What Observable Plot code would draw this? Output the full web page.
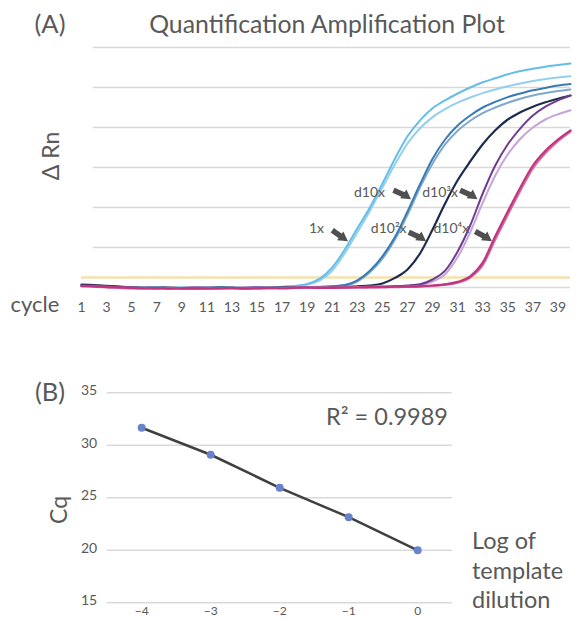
<!DOCTYPE html>
<html>
<head>
<meta charset="utf-8">
<script src="https://cdn.jsdelivr.net/npm/d3@7"></script>
<script src="https://cdn.jsdelivr.net/npm/@observablehq/plot@0.6"></script>
<style>
  html, body { margin: 0; padding: 0; background: #fff; overflow: hidden; }
  #wrap { position: relative; width: 579px; height: 618px; overflow: hidden; font-family: Lato, "Open Sans", sans-serif; color: #595959; }
  #pa, #pb { position: absolute; left: 0; }
  #pa { top: 0; }
  #pb { top: 360px; }
  .t { position: absolute; white-space: nowrap; line-height: 1; transform: translate(-50%, -50%); }
  .r { transform: translate(-50%, -50%) rotate(-90deg); }
  .l { position: absolute; white-space: nowrap; line-height: 1; transform: translate(0, -50%); }
</style>
</head>
<body>
<div id="wrap">
  <div id="pa"></div>
  <div id="pb"></div>
  <div class="t" style="left:50px;top:24px;font-size:25.5px">(A)</div>
  <div class="t" style="left:327px;top:24px;font-size:24.8px">Quantification Amplification Plot</div>
  <div class="t r" style="left:50px;top:156px;font-size:23px">Δ Rn</div>
  <div class="t" style="left:35px;top:304px;font-size:22px">cycle</div>
  <div class="t" style="left:50px;top:392px;font-size:25.5px">(B)</div>
  <div class="t" style="left:387px;top:417px;font-size:23.5px">R² = 0.9989</div>
  <div class="t r" style="left:58px;top:510px;font-size:23px">Cq</div>
  <div class="l" style="left:472px;top:541px;font-size:23.5px">Log of</div>
  <div class="l" style="left:472px;top:571px;font-size:23.5px">template</div>
  <div class="l" style="left:472px;top:600px;font-size:23.5px">dilution</div>
</div>
<script>
// ---------- Panel A data: ΔRn per cycle (cycles 1..40) ----------
const cycles = d3.range(1, 41);
const cycleTicks = [1, 3, 5, 7, 9, 11, 13, 15, 17, 19, 21, 23, 25, 27, 29, 31, 33, 35, 37, 39];
const rnGrid = [0, 1, 2, 3, 4, 5, 6];
const threshold = 0.25;

const rn_1x_a = [0.05,0.04,0.03,0.02,0.01,0.0,0.0,-0.01,0.0,-0.01,0.0,0.01,0.0,-0.01,0.0,0.01,0.02,
  0.04,0.09,0.22,0.5,0.95,1.48,2.0,2.6,3.22,3.78,4.18,4.48,4.68,4.85,5.0,5.13,5.23,5.33,5.41,5.47,5.52,5.56,5.6];
const rn_1x_b = [0.04,0.03,0.03,0.01,0.0,0.0,-0.01,-0.01,0.0,-0.02,-0.01,0.0,0.0,-0.01,0.0,0.0,0.01,
  0.03,0.07,0.18,0.42,0.86,1.38,1.92,2.5,3.08,3.6,3.98,4.26,4.46,4.62,4.75,4.86,4.95,5.03,5.1,5.16,5.21,5.25,5.28];
const rn_d10_a = [0.05,0.04,0.02,0.01,0.0,-0.01,0.0,-0.01,-0.02,-0.01,0.0,-0.01,-0.01,0.0,0.0,-0.01,0.0,0.01,0.0,0.01,0.03,
  0.06,0.18,0.42,0.78,1.26,1.9,2.58,3.22,3.7,4.05,4.3,4.5,4.64,4.76,4.85,4.93,4.99,5.05,5.09];
const rn_d10_b = [0.04,0.04,0.03,0.01,0.0,0.0,-0.01,-0.01,-0.01,0.0,0.0,-0.01,0.0,-0.01,0.0,0.0,0.0,0.01,0.01,0.02,0.03,
  0.05,0.15,0.38,0.72,1.2,1.82,2.5,3.1,3.58,3.92,4.17,4.36,4.5,4.62,4.72,4.8,4.86,4.91,4.95];
const rn_d100 = [0.07,0.06,0.04,0.02,0.01,0.0,-0.01,0.0,-0.02,-0.02,-0.01,0.0,-0.01,-0.02,-0.01,0.0,0.0,-0.01,-0.01,0.0,0.01,0.01,0.03,0.05,
  0.1,0.24,0.45,0.85,1.45,2.1,2.68,3.15,3.58,3.93,4.2,4.38,4.52,4.63,4.72,4.8];
const rn_d1000_a = [0.05,0.05,0.03,0.01,0.0,-0.01,-0.01,-0.02,-0.01,0.0,-0.01,-0.02,-0.02,-0.01,0.0,-0.01,-0.01,0.0,0.0,-0.01,0.0,0.0,0.01,0.02,0.02,0.03,0.05,
  0.08,0.2,0.42,0.9,1.55,2.35,3.05,3.58,3.98,4.3,4.52,4.68,4.8];
const rn_d1000_b = [0.04,0.04,0.02,0.01,0.0,0.0,-0.01,-0.01,-0.01,0.0,0.0,-0.01,-0.01,0.0,0.0,0.0,-0.01,0.0,0.01,0.0,0.0,0.01,0.01,0.02,0.03,0.03,0.04,
  0.06,0.15,0.33,0.76,1.38,2.12,2.8,3.33,3.72,4.0,4.2,4.33,4.43];
const rn_d10000_a = [0.04,0.03,0.01,0.0,-0.01,-0.02,-0.02,-0.03,-0.02,-0.02,-0.03,-0.02,-0.01,-0.02,-0.02,-0.01,-0.02,-0.01,0.0,-0.01,-0.01,0.0,0.0,0.01,0.01,0.02,0.02,0.03,0.05,
  0.08,0.14,0.28,0.62,1.28,1.9,2.5,3.05,3.42,3.7,3.93];
const rn_d10000_b = [0.03,0.02,0.01,-0.01,-0.02,-0.02,-0.03,-0.02,-0.02,-0.03,-0.02,-0.02,-0.02,-0.01,-0.02,-0.02,-0.01,-0.01,-0.01,0.0,-0.01,0.0,0.01,0.0,0.01,0.01,0.02,0.03,0.04,
  0.07,0.12,0.25,0.56,1.2,1.82,2.42,2.98,3.36,3.66,3.9];

// annotation labels and arrows (positions in data units: cycle, ΔRn)
const labelText = ["1x", "d10x", "d10²x", "d10³x", "d10⁴x"];
const labelCycle = [19.74, 23.97, 25.5, 29.6, 30.5];
const labelRn = [1.48, 2.38, 1.48, 2.38, 1.48];
const arrowTailCycle = [21.0, 25.88, 27.1, 31.2, 32.4];
const arrowTailRn = [1.43, 2.43, 1.38, 2.43, 1.40];
const arrowHeadCycle = [21.84, 26.87, 28.07, 32.17, 33.32];
const arrowHeadRn = [1.245, 2.295, 1.245, 2.295, 1.245];

// ---------- Panel B data ----------
const logDilution = [-4, -3, -2, -1, 0];
const cqValues = [31.67, 29.1, 25.95, 23.15, 20.0];
const cqTicks = [15, 20, 25, 30, 35];

// ---------- styles ----------
const curves = [
  {values: rn_1x_b, color: "#93d0ec", width: 2},
  {values: rn_1x_a, color: "#66bde6", width: 2},
  {values: rn_d10_b, color: "#80a8cc", width: 2},
  {values: rn_d10_a, color: "#3a7bb4", width: 2},
  {values: rn_d100, color: "#1d2b4f", width: 2.2},
  {values: rn_d1000_b, color: "#c6a4d8", width: 2},
  {values: rn_d1000_a, color: "#6f3d8e", width: 2},
  {values: rn_d10000_b, color: "#d46aa2", width: 2.2},
  {values: rn_d10000_a, color: "#c0367e", width: 2.2}
];

const font = "Lato, 'Open Sans', sans-serif";
const ann = labelText.map((t, i) => ({t, i}));
const arrowGray = "#505050";

const plotA = Plot.plot({
  width: 579, height: 330,
  marginTop: 47, marginBottom: 43, marginLeft: 93, marginRight: 9,
  x: {domain: [1, 40], range: [81, 570]},
  y: {domain: [0, 6], axis: null},
  style: {fontFamily: font, color: "#595959", background: "transparent", overflow: "visible"},
  marks: [
    Plot.gridY(rnGrid, {stroke: "#d9d9d9", strokeOpacity: 1, strokeWidth: 1.5}),
    Plot.ruleY([threshold], {x1: 1, x2: 40, stroke: "#f3e2ad", strokeWidth: 2.5}),
    ...curves.map(c => Plot.line(cycles, {
      x: d => d, y: (d, i) => c.values[i],
      stroke: c.color, strokeWidth: c.width, curve: "monotone-x"
    })),
    Plot.link(ann, {
      x1: d => arrowTailCycle[d.i], y1: d => arrowTailRn[d.i],
      x2: d => arrowHeadCycle[d.i], y2: d => arrowHeadRn[d.i],
      stroke: arrowGray, strokeWidth: 5.5, strokeLinecap: "butt"
    }),
    Plot.dot(ann, {
      x: d => arrowHeadCycle[d.i], y: d => arrowHeadRn[d.i],
      symbol: "triangle2", r: 5.2, rotate: 125, fill: arrowGray, stroke: "none"
    }),
    Plot.text(ann, {
      x: d => labelCycle[d.i], y: d => labelRn[d.i], text: d => d.t,
      fontSize: 14, fill: "#595959", textAnchor: "middle"
    }),
    Plot.axisX(cycleTicks, {tickSize: 0, tickPadding: 15, fontSize: 14, label: null})
  ]
});
document.getElementById("pa").appendChild(plotA);

const plotB = Plot.plot({
  width: 579, height: 275,
  marginTop: 32.3, marginBottom: 32.7, marginLeft: 106.7, marginRight: 127.3,
  x: {domain: [-4.5, 0.5]},
  y: {domain: [15, 35]},
  style: {fontFamily: font, color: "#595959", background: "transparent", overflow: "visible"},
  marks: [
    Plot.gridY(cqTicks, {stroke: "#d9d9d9", strokeOpacity: 1, strokeWidth: 1.5}),
    Plot.line(logDilution, {x: d => d, y: (d, i) => cqValues[i], stroke: "#404040", strokeWidth: 2.5}),
    Plot.dot(logDilution, {x: d => d, y: (d, i) => cqValues[i], r: 4, fill: "#6683cc", stroke: "none"}),
    Plot.axisX(logDilution, {tickSize: 0, tickPadding: 4, fontSize: 12, label: null}),
    Plot.axisY(cqTicks, {tickSize: 0, tickPadding: 10, fontSize: 14, label: null, dy: -2})
  ]
});
document.getElementById("pb").appendChild(plotB);
</script>
</body>
</html>
